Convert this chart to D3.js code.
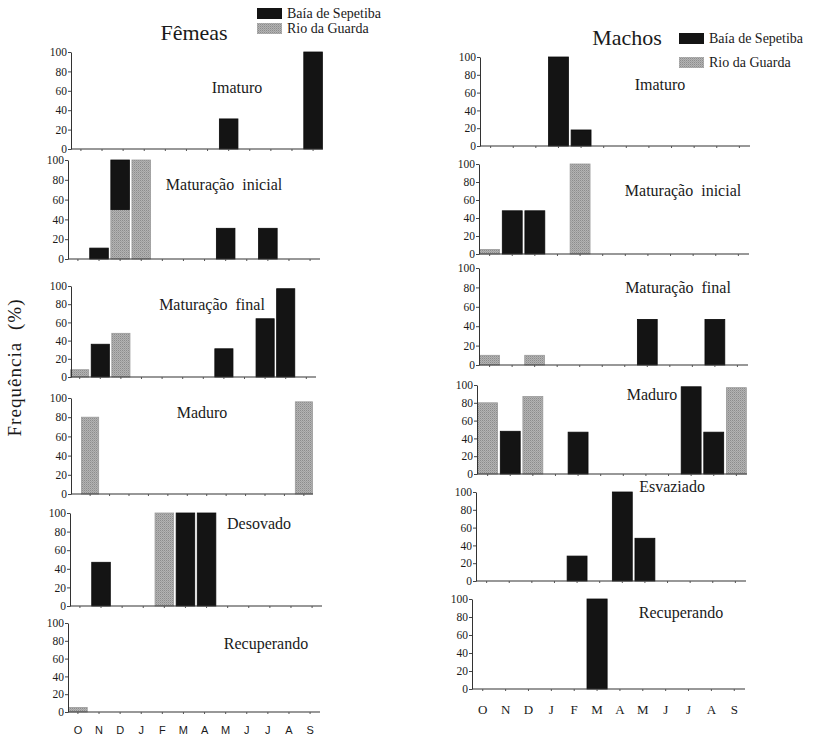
<!DOCTYPE html>
<html>
<head>
<meta charset="utf-8">
<script src="https://cdn.jsdelivr.net/npm/d3@7/dist/d3.min.js"></script>
<style>
  html, body { margin: 0; padding: 0; background: #fff; }
  svg { display: block; }
  text { font-family: "Liberation Serif", "Times New Roman", serif; fill: #1a1a1a; }
</style>
</head>
<body>
<svg id="chart" width="813" height="737"></svg>
<script>
// Months of the sampling year (October to September)
const months = ["O", "N", "D", "J", "F", "M", "A", "M", "J", "J", "A", "S"];
const yTicks = [0, 20, 40, 60, 80, 100];
const seriesNames = ["Baía de Sepetiba", "Rio da Guarda"];

// Females: maturity stages and monthly frequencies (%)
const femStages = ["Imaturo", "Maturação  inicial", "Maturação  final", "Maduro", "Desovado", "Recuperando"];
const femSepetiba = [
  [0, 0, 0, 0, 0, 0, 0, 31, 0, 0, 0, 100],
  [0, 11, 50, 0, 0, 0, 0, 31, 0, 31, 0, 0],
  [0, 36, 0, 0, 0, 0, 0, 31, 0, 64, 97, 0],
  [0, 0, 0, 0, 0, 0, 0, 0, 0, 0, 0, 0],
  [0, 47, 0, 0, 0, 100, 100, 0, 0, 0, 0, 0],
  [0, 0, 0, 0, 0, 0, 0, 0, 0, 0, 0, 0]
];
const femGuarda = [
  [0, 0, 0, 0, 0, 0, 0, 0, 0, 0, 0, 0],
  [0, 0, 50, 100, 0, 0, 0, 0, 0, 0, 0, 0],
  [8, 0, 48, 0, 0, 0, 0, 0, 0, 0, 0, 0],
  [80, 0, 0, 0, 0, 0, 0, 0, 0, 0, 0, 96],
  [0, 0, 0, 0, 100, 0, 0, 0, 0, 0, 0, 0],
  [5, 0, 0, 0, 0, 0, 0, 0, 0, 0, 0, 0]
];

// Males: maturity stages and monthly frequencies (%)
const maleStages = ["Imaturo", "Maturação  inicial", "Maturação  final", "Maduro", "Esvaziado", "Recuperando"];
const maleSepetiba = [
  [0, 0, 0, 100, 18, 0, 0, 0, 0, 0, 0, 0],
  [0, 48, 48, 0, 0, 0, 0, 0, 0, 0, 0, 0],
  [0, 0, 0, 0, 0, 0, 0, 47, 0, 0, 47, 0],
  [0, 48, 0, 0, 47, 0, 0, 0, 0, 98, 47, 0],
  [0, 0, 0, 0, 28, 0, 100, 48, 0, 0, 0, 0],
  [0, 0, 0, 0, 0, 100, 0, 0, 0, 0, 0, 0]
];
const maleGuarda = [
  [0, 0, 0, 0, 0, 0, 0, 0, 0, 0, 0, 0],
  [5, 0, 0, 0, 100, 0, 0, 0, 0, 0, 0, 0],
  [10, 0, 10, 0, 0, 0, 0, 0, 0, 0, 0, 0],
  [80, 0, 87, 0, 0, 0, 0, 0, 0, 0, 0, 97],
  [0, 0, 0, 0, 0, 0, 0, 0, 0, 0, 0, 0],
  [0, 0, 0, 0, 0, 0, 0, 0, 0, 0, 0, 0]
];

// Panel frames: y-axis x, band range, baseline / 100% y, stage-label centre
const femLayout = [
  { ax: 71, x0: 71, x1: 323, y0: 149, y1: 52,  tx: 237, ty: 93 },
  { ax: 68, x0: 68, x1: 320, y0: 259, y1: 160, tx: 224, ty: 190 },
  { ax: 71, x0: 70, x1: 316, y0: 377, y1: 286, tx: 212, ty: 310 },
  { ax: 71, x0: 81, x1: 313, y0: 494, y1: 398, tx: 202, ty: 418 },
  { ax: 70, x0: 70, x1: 322, y0: 606, y1: 513, tx: 259, ty: 529 },
  { ax: 68, x0: 68, x1: 320, y0: 712, y1: 623, tx: 266, ty: 649 }
];
const maleLayout = [
  { ax: 480, x0: 480, x1: 750, y0: 146, y1: 57,  tx: 660, ty: 90 },
  { ax: 479, x0: 479, x1: 749, y0: 254, y1: 164, tx: 683, ty: 196 },
  { ax: 479, x0: 479, x1: 748, y0: 365, y1: 268, tx: 678, ty: 293 },
  { ax: 477, x0: 477, x1: 747, y0: 474, y1: 385, tx: 652, ty: 400 },
  { ax: 476, x0: 476, x1: 746, y0: 581, y1: 492, tx: 672, ty: 492 },
  { ax: 472, x0: 472, x1: 745, y0: 689, y1: 599, tx: 681, ty: 618 }
];

const svg = d3.select("#chart");

// Stippled grey used for Rio da Guarda
const defs = svg.append("defs");
const pat = defs.append("pattern")
  .attr("id", "stipple").attr("patternUnits", "userSpaceOnUse")
  .attr("width", 2).attr("height", 2);
pat.append("rect").attr("width", 2).attr("height", 2).attr("fill", "#b3b3b3");
pat.append("rect").attr("width", 1).attr("height", 1).attr("fill", "#8c8c8c");
pat.append("rect").attr("x", 1).attr("y", 1).attr("width", 1).attr("height", 1).attr("fill", "#a0a0a0");

const colors = { sep: "#141414", gua: "url(#stipple)" };
const serif = "Liberation Serif, Times New Roman, serif";
const sans = "Liberation Sans, Arial, sans-serif";

function drawPanel(layout, stage, sep, gua, isLast, monthFont) {
  const g = svg.append("g");
  const x = d3.scaleBand().domain(d3.range(months.length))
    .range([layout.x0, layout.x1]).paddingInner(0.12).paddingOuter(0.03);
  const y = d3.scaleLinear().domain([0, 100]).range([layout.y0, layout.y1]);

  const rows = months.map((m, i) => ({ i, gua: gua[i], sep: sep[i] }));
  const stacked = d3.stack().keys(["gua", "sep"])(rows);

  stacked.forEach(layer => {
    g.append("g").selectAll("rect")
      .data(layer.filter(d => d[1] - d[0] > 0))
      .join("rect")
      .attr("x", d => x(d.data.i))
      .attr("width", x.bandwidth())
      .attr("y", d => y(d[1]))
      .attr("height", d => y(d[0]) - y(d[1]))
      .attr("fill", colors[layer.key])
      .attr("stroke", layer.key === "sep" ? "#0a0a0a" : "#9a9a9a")
      .attr("stroke-width", 0.8);
  });

  // y axis
  const ya = g.append("g").attr("transform", `translate(${layout.ax},0)`)
    .call(d3.axisLeft(y).tickValues(yTicks).tickSize(3).tickSizeOuter(0).tickPadding(1))
    .attr("font-family", serif).attr("font-size", 11.5);
  ya.selectAll("text").style("font-family", serif).style("font-size", "11.5px").attr("fill", "#222");
  ya.select(".domain").attr("stroke", "#333").attr("stroke-width", 1);
  ya.selectAll(".tick line").attr("stroke", "#444");

  // baseline with month ticks
  g.append("line")
    .attr("x1", layout.ax).attr("x2", layout.x1)
    .attr("y1", layout.y0).attr("y2", layout.y0)
    .attr("stroke", "#333").attr("stroke-width", 1.1);
  const mf = monthFont === "sans" ? sans : serif;
  const xa = g.append("g").attr("transform", `translate(0,${layout.y0})`)
    .call(d3.axisBottom(x).tickSize(2).tickSizeOuter(0)
      .tickPadding(isLast ? (monthFont === "sans" ? 12 : 14) : 0)
      .tickFormat(i => isLast ? months[i] : ""))
    .attr("font-family", mf);
  xa.select(".domain").remove();
  xa.selectAll(".tick line").attr("stroke", "#555");
  if (isLast) {
    xa.selectAll("text")
      .style("font-family", mf)
      .style("font-size", monthFont === "sans" ? "11px" : "13px")
      .attr("fill", "#222");
  }

  // stage name
  g.append("text")
    .attr("x", layout.tx).attr("y", layout.ty)
    .attr("text-anchor", "middle")
    .style("font-size", "16px")
    .style("white-space", "pre")
    .text(stage);
}

femStages.forEach((s, k) =>
  drawPanel(femLayout[k], s, femSepetiba[k], femGuarda[k], k === femStages.length - 1, "sans"));
maleStages.forEach((s, k) =>
  drawPanel(maleLayout[k], s, maleSepetiba[k], maleGuarda[k], k === maleStages.length - 1, "serif"));

// Column titles
svg.append("text").attr("x", 194).attr("y", 40).attr("text-anchor", "middle")
  .style("font-size", "22px").text("Fêmeas");
svg.append("text").attr("x", 627).attr("y", 45).attr("text-anchor", "middle")
  .style("font-size", "22px").text("Machos");

// Legends
function legend(x, ys) {
  const lg = svg.append("g");
  seriesNames.forEach((name, i) => {
    lg.append("rect").attr("x", x).attr("y", ys[i] - 10)
      .attr("width", 25).attr("height", 11)
      .attr("fill", i === 0 ? colors.sep : colors.gua);
    lg.append("text").attr("x", x + 30).attr("y", ys[i])
      .style("font-size", "14px").text(name);
  });
}
legend(257, [18, 33]);
legend(679, [43, 67]);

// Y axis title
svg.append("text")
  .attr("transform", "translate(21,368) rotate(-90)")
  .attr("text-anchor", "middle")
  .style("font-size", "19px")
  .attr("textLength", 137).attr("lengthAdjust", "spacing")
  .style("white-space", "pre")
  .text("Frequência  (%)");
</script>
</body>
</html>
